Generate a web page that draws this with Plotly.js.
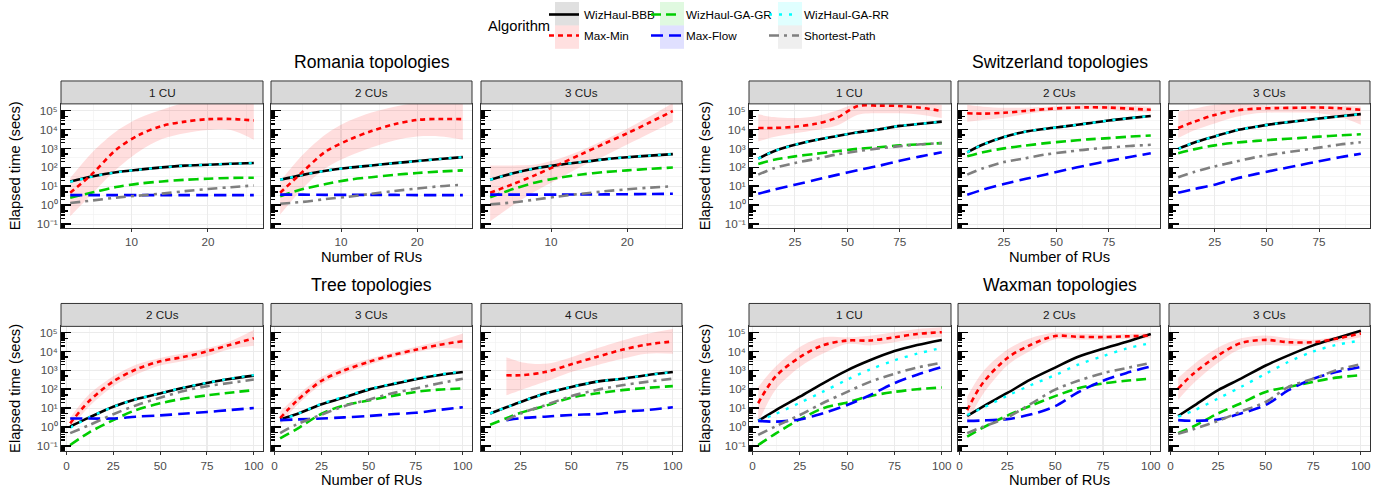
<!DOCTYPE html>
<html><head><meta charset="utf-8">
<script src="https://cdn.plot.ly/plotly-3.0.1.min.js"></script>
<style>html,body{margin:0;padding:0;background:#fff}#chart{width:1382px;height:491px}</style>
</head><body><div id="chart"></div>
<script>
// ---------------- DATA (elapsed time in seconds) ----------------
const algorithms = ['WizHaul-BBB', 'WizHaul-GA-GR', 'WizHaul-GA-RR', 'Max-Min', 'Max-Flow', 'Shortest-Path'];
const groupTitles = ['Romania topologies', 'Switzerland topologies', 'Tree topologies', 'Waxman topologies'];

const romaniaPanels = ['1 CU', '2 CUs', '3 CUs'];
const romaniaRUs = [[2,5,8,11,14,17,20,23,26],[2,5,8,11,14,17,20,23,26],[2,5,8,11,14,17,20,23,26]];
const romaniaBBB = [[18,34,55,76,100,123,138,155,170],[22,40,66,95,126,166,214,275,347],[22,48,89,135,190,263,339,417,501]];
const romaniaGAGR = [[2.5,4.8,9.1,13.8,18,22,25,27.5,28],[3.0,7.1,13,22,30,40,50,60,69],[2.6,7.1,16,28,42,56,69,83,98]];
const romaniaGARR = [[17,33,54,75,99,122,137,154,168],[22,40,66,95,126,166,214,275,347],[22,48,89,135,190,263,339,417,501]];
const romaniaMaxMin = [[4.5,50,850,5200,15500,26000,35000,36000,30000],[4.5,60,690,2800,8300,19000,32000,36000,35000],[4.5,13,40,140,500,1800,6300,24000,95000]];
const romaniaMaxMinLow = [[0.26,4.5,76,690,3100,6300,9500,9500,2900],[0.32,7.9,91,380,1100,2600,4200,4300,2900],[0.14,1.0,5.6,25,112,400,1600,6300,25000]];
const romaniaMaxMinHigh = [[27,690,7800,40000,110000,250000,250000,250000,250000],[18,470,5600,28000,79000,160000,250000,250000,250000],[126,126,141,282,794,2800,11000,50000,250000]];
const romaniaMaxFlow = [[3.4,3.4,3.4,3.4,3.4,3.4,3.4,3.4,3.4],[3.6,3.6,3.5,3.5,3.5,3.5,3.4,3.4,3.4],[3.6,3.6,3.6,3.6,3.7,3.7,3.8,3.9,4.0]];
const romaniaShortest = [[1.3,1.8,2.5,3.2,4.1,5.5,7.2,8.9,11],[1.2,1.5,2.1,2.8,4.0,5.6,7.6,10,12],[1.1,1.4,2.0,2.9,4.0,5.4,6.9,8.5,10]];

const switzerlandPanels = ['1 CU', '2 CUs', '3 CUs'];
const switzerlandRUs = [[7.5,15,25,35,45,55,65,75,85,95],[7.5,15,25,35,45,55,65,75,85,95],[7.5,15,25,35,45,55,65,75,85,95]];
const switzerlandBBB = [[290,710,1550,2800,4500,7100,10000,15500,20000,26000],[620,1600,4000,7600,11000,15000,21000,30000,40000,52000],[950,2000,4300,8900,14000,21000,28000,38000,50000,65000]];
const switzerlandGAGR = [[150,250,380,520,710,950,1150,1450,1650,1900],[380,630,1000,1400,1900,2400,3000,3500,4200,4800],[560,890,1450,2000,2500,3000,3500,4200,4900,5600]];
const switzerlandGARR = [[290,710,1550,2800,4500,7100,10000,15500,20000,26000],[620,1600,4000,7600,11000,15000,21000,30000,40000,52000],[950,2000,4300,8900,14000,21000,28000,38000,50000,65000]];
const switzerlandMaxMin = [[12000,12000,14000,20000,42000,174000,182000,174000,141000,95000],[72000,69000,76000,95000,120000,138000,148000,145000,126000,110000],[12000,25000,59000,100000,126000,135000,141000,145000,132000,110000]];
const switzerlandMaxMinLow = [[2300,4000,6300,9500,16000,60000,72000,71000,60000,40000],[26000,32000,42000,63000,89000,107000,115000,110000,91000,76000],[3500,8900,21000,45000,71000,79000,79000,72000,45000,18000]];
const switzerlandMaxMinHigh = [[63000,45000,40000,50000,100000,250000,250000,250000,250000,200000],[200000,160000,141000,141000,160000,178000,190000,190000,178000,160000],[89000,126000,200000,250000,200000,178000,178000,178000,178000,166000]];
const switzerlandMaxFlow = [[4.0,6.6,12,22,40,71,120,220,380,620],[3.6,6.6,13,24,42,76,130,220,350,560],[4.5,7.1,12,25,45,76,126,210,340,520]];
const switzerlandShortest = [[41,89,170,280,480,720,1000,1300,1650,1900],[41,89,190,300,480,660,890,1100,1350,1550],[30,56,112,200,350,520,760,1100,1600,2100]];

const treePanels = ['2 CUs', '3 CUs', '4 CUs'];
const treeRUs = [[2,12,25,37,50,62,75,87,100],[3,12,25,37,50,62,75,87,100],[10,18,25,37,50,62,75,87,100]];
const treeBBB = [[1.05,3.1,11.7,29,59,117,214,347,525],[2.5,4.8,16,36,95,178,340,550,810],[5.2,11,21,59,132,245,360,550,810]];
const treeGAGR = [[0.11,0.5,2.3,7.8,17.8,31,47,65,89],[0.25,0.79,5.0,14,25,43,72,95,110],[1.3,2.9,5.6,13,36,59,89,117,145]];
const treeGARR = [[0.92,3.1,11.7,29,60,120,220,360,560],[2.2,4.8,17,40,100,190,360,590,890],[5.2,11,21,59,132,245,360,550,810]];
const treeMaxMin = [[1.55,23,260,1100,3000,5000,10000,22000,50000],[2.9,25,280,1000,2800,6200,12300,22000,35000],[null,550,550,810,2100,5000,12300,23000,34000]];
const treeMaxMinLow = [[0.76,11.7,145,590,1800,3000,5500,13000,20000],[1.26,14,178,630,1900,4500,8900,15000,14000],[null,48,89,245,810,1800,4100,7600,7600]];
const treeMaxMinHigh = [[3.1,52,480,2000,4500,8100,15000,34000,138000],[6.3,45,450,1600,4000,8500,18000,35000,89000],[null,5000,2800,2200,5000,13800,38000,85000,155000]];
const treeMaxFlow = [[2.8,2.8,2.8,3.5,4.1,5.0,6.2,7.8,10],[2.3,2.5,2.8,3.2,3.8,4.7,5.6,7.9,11],[null,2.3,2.9,3.5,4.3,4.8,6.5,7.9,11]];
const treeShortest = [[0.47,1.23,4.7,13.8,35,78,145,214,324],[0.47,1.4,4.5,12.6,28,59,110,200,360],[null,2.3,5.2,14,43,89,162,245,360]];

const waxmanPanels = ['1 CU', '2 CUs', '3 CUs'];
const waxmanRUs = [[3,12,25,37,50,62,75,87,100],[4,12,25,37,50,62,75,87,100],[4,12,25,37,50,62,75,87,100]];
const waxmanBBB = [[2.1,7.4,40,200,1000,3400,10500,22000,41000],[3.8,11.7,63,320,1400,5200,14000,32000,85000],[3.8,12.6,89,360,1800,6200,21000,50000,126000]];
const waxmanGAGR = [[0.11,0.43,2.5,9.5,20,43,72,100,123],[0.31,0.89,4.0,13,43,112,200,280,360],[0.47,1.05,5.2,18,72,132,245,410,550]];
const waxmanGARR = [[2.1,4.8,19,72,320,1100,3400,7600,15500],[4.3,10,45,160,560,2000,5600,14000,28000],[3.5,7.2,32,132,660,2800,10000,22000,38000]];
const waxmanMaxMin = [[18,450,5000,21000,38000,38000,56000,85000,105000],[7.8,200,4500,22000,66000,60000,58000,63000,69000],[110,660,6200,28000,41000,31000,31000,47000,91000]];
const waxmanMaxMinLow = [[1.55,89,1500,7600,25000,21000,31000,47000,56000],[1.6,50,1800,11000,45000,42000,42000,47000,50000],[28,200,2500,14000,22000,20000,22000,32000,56000]];
const waxmanMaxMinHigh = [[132,1500,17000,56000,56000,69000,105000,155000,190000],[40,800,12600,50000,100000,89000,79000,83000,95000],[400,2000,16000,50000,71000,50000,42000,63000,141000]];
const waxmanMaxFlow = [[2.1,1.9,2.5,5.2,14.5,48,210,590,1500],[2.1,2.2,2.6,4.5,12.6,69,280,710,1600],[2.3,2.1,2.5,5.2,14.5,89,360,810,1500]];
const waxmanShortest = [[0.38,1.05,4.3,18,72,245,660,1400,2500],[0.47,1.0,3.2,16,95,280,710,1300,2500],[0.43,0.76,2.1,6.5,21,132,360,1000,2100]];

const yTickLabels = ['10\u207B\u00B9', '10\u2070', '10\u00B9', '10\u00B2', '10\u00B3', '10\u2074', '10\u2075'];

// ---------------- STYLE ----------------
const FONT = 'Liberation Sans, Arial, Helvetica, sans-serif';
const W = 1382, H = 491;
const px = X => X / W, py = Y => 1 - Y / H;
const styles = {
  'WizHaul-BBB':   {color:'#000000', dash:'solid', legend:'legend', bg:'rgba(0,0,0,0.12)'},
  'WizHaul-GA-GR': {color:'#00CD00', dash:'10px,5px', legend:'legend2', bg:'rgba(0,205,0,0.12)'},
  'WizHaul-GA-RR': {color:'#00FFFF', dash:'3px,7px', legend:'legend3', bg:'rgba(0,255,255,0.12)'},
  'Max-Min':       {color:'#FF0000', dash:'5px,4px', legend:'legend', bg:'rgba(255,0,0,0.12)'},
  'Max-Flow':      {color:'#0000FF', dash:'12px,6px', legend:'legend2', bg:'rgba(0,0,255,0.12)'},
  'Shortest-Path': {color:'#7F7F7F', dash:'10px,5px,3px,5px', legend:'legend3', bg:'rgba(127,127,127,0.12)'}
};

const groups = [
  {panels: romaniaPanels, x: romaniaRUs, s: [romaniaBBB, romaniaGAGR, romaniaGARR, romaniaMaxMin, romaniaMaxFlow, romaniaShortest], lo: romaniaMaxMinLow, hi: romaniaMaxMinHigh,
   xr: [[0.8,27.2],[0.8,27.2],[0.8,27.2]], dtick: 10, minor: 5},
  {panels: switzerlandPanels, x: switzerlandRUs, s: [switzerlandBBB, switzerlandGAGR, switzerlandGARR, switzerlandMaxMin, switzerlandMaxFlow, switzerlandShortest], lo: switzerlandMaxMinLow, hi: switzerlandMaxMinHigh,
   xr: [[3.1,99.4],[3.1,99.4],[3.1,99.4]], dtick: 25, minor: 12.5},
  {panels: treePanels, x: treeRUs, s: [treeBBB, treeGAGR, treeGARR, treeMaxMin, treeMaxFlow, treeShortest], lo: treeMaxMinLow, hi: treeMaxMinHigh,
   xr: [[-2.9,104.9],[-1.85,104.85],[5.5,104.5]], dtick: 25, minor: 12.5},
  {panels: waxmanPanels, x: waxmanRUs, s: [waxmanBBB, waxmanGAGR, waxmanGARR, waxmanMaxMin, waxmanMaxFlow, waxmanShortest], lo: waxmanMaxMinLow, hi: waxmanMaxMinHigh,
   xr: [[-1.85,104.85],[-0.8,104.8],[-0.8,104.8]], dtick: 25, minor: 12.5}
];

const colPx = [[61,263],[271,472],[481,682],[749,951],[958,1160],[1169,1370]];
const rows = [
  {strip:[79.3,102.3], plot:[102.3,227.3], yr:[-1.226,5.353]},
  {strip:[302.7,325.7], plot:[325.7,451.3], yr:[-1.30,5.33]}
];

// log-axis decoration values
const decades = [], halfDecades = [], fives = [], smallTicks = [];
for (let k = -2; k <= 5; k++) {
  decades.push(Math.pow(10, k));
  halfDecades.push(Math.pow(10, k + 0.5));
  fives.push(5 * Math.pow(10, k));
  [2,3,4,6,7,8,9].forEach(m => smallTicks.push(m * Math.pow(10, k)));
}

const traces = [];
const layout = {
  width: W, height: H, margin: {l:0, r:0, t:0, b:0},
  paper_bgcolor: '#ffffff', plot_bgcolor: '#ffffff',
  font: {family: FONT, color: '#000000', size: 11.7},
  showlegend: true, annotations: [], shapes: []
};

function clean(xs, ys) {
  const X = [], Y = [];
  xs.forEach((v, i) => { if (ys[i] !== null && ys[i] !== undefined) { X.push(v); Y.push(ys[i]); } });
  return {x: X, y: Y};
}

for (let p = 0; p < 12; p++) {
  const g = Math.floor(p / 3), c = p % 3, grp = groups[g];
  const row = rows[g < 2 ? 0 : 1];
  const side = g % 2;
  const cp = colPx[side * 3 + c];
  const n = p + 1;
  const xid = p === 0 ? 'x' : 'x' + n, yid = p === 0 ? 'y' : 'y' + n;
  const xkey = p === 0 ? 'xaxis' : 'xaxis' + n, ykey = p === 0 ? 'yaxis' : 'yaxis' + n;
  const oid = 'y' + (n + 12), okey = 'yaxis' + (n + 12);
  const leftmost = c === 0;

  layout[xkey] = {
    domain: [px(cp[0]), px(cp[1])], anchor: yid, range: grp.xr[c], autorange: false,
    tick0: 0, dtick: grp.dtick, ticks: 'outside', ticklen: 3, tickcolor: '#333333', tickwidth: 1,
    showline: true, mirror: true, linecolor: '#333333', linewidth: 1,
    showgrid: true, gridcolor: '#EBEBEB', gridwidth: 1.1, zeroline: false,
    minor: {dtick: grp.minor, tick0: 0, showgrid: true, gridcolor: '#F2F2F2', gridwidth: 0.7, ticks: ''},
    tickfont: {size: 11.7, color: '#4D4D4D', family: FONT}, fixedrange: true
  };
  const yax = {
    domain: [py(row.plot[1]), py(row.plot[0])], anchor: xid, type: 'log', range: row.yr, autorange: false,
    tickmode: 'array', tickvals: decades.slice(1, 8), showticklabels: leftmost,
    ticks: 'inside', ticklen: 10, tickwidth: 1.6, tickcolor: '#000000',
    showline: true, mirror: true, linecolor: '#333333', linewidth: 1,
    showgrid: true, gridcolor: '#EBEBEB', gridwidth: 1.1, zeroline: false,
    minor: {tickmode: 'array', tickvals: halfDecades, showgrid: true, gridcolor: '#F2F2F2', gridwidth: 0.7, ticks: ''},
    tickfont: {size: 11.7, color: '#4D4D4D', family: FONT}, fixedrange: true
  };
  if (leftmost) yax.ticktext = yTickLabels;
  layout[ykey] = yax;
  // overlay axis carrying the log tick marks (5s and 2..9s)
  layout[okey] = {
    overlaying: yid, anchor: xid, side: 'left', type: 'log', range: row.yr, autorange: false,
    tickmode: 'array', tickvals: fives, showticklabels: false,
    ticks: 'inside', ticklen: 6.5, tickwidth: 1.5, tickcolor: '#000000',
    showline: false, showgrid: false, zeroline: false,
    minor: {tickmode: 'array', tickvals: smallTicks, ticks: 'inside', ticklen: 4, tickwidth: 1.5, tickcolor: '#000000', showgrid: false},
    fixedrange: true
  };
  traces.push({type:'scatter', mode:'lines', x: [], y: [], xaxis: xid, yaxis: oid, showlegend: false, hoverinfo: 'skip'});

  // strip
  layout.shapes.push({type:'rect', xref: xid + ' domain', yref:'paper', x0:0, x1:1, y0: py(row.strip[1]), y1: py(row.strip[0]),
    fillcolor:'#D9D9D9', line:{color:'#333333', width:1}, layer:'above'});
  layout.annotations.push({xref: xid + ' domain', yref:'paper', x:0.5, y: py((row.strip[0] + row.strip[1]) / 2),
    text: grp.panels[c], showarrow:false, font:{size:11.7, color:'#1A1A1A', family: FONT}, xanchor:'center', yanchor:'middle'});

  // Max-Min confidence ribbon
  const lo = clean(grp.x[c], grp.lo[c]), hi = clean(grp.x[c], grp.hi[c]);
  traces.push({type:'scatter', mode:'lines', x: lo.x, y: lo.y, xaxis: xid, yaxis: yid, line:{width:0, shape:'spline', smoothing:0.9},
    showlegend:false, hoverinfo:'skip'});
  traces.push({type:'scatter', mode:'lines', x: hi.x, y: hi.y, xaxis: xid, yaxis: yid, line:{width:0, shape:'spline', smoothing:0.9},
    fill:'tonexty', fillcolor:'rgba(255,0,0,0.13)', showlegend:false, hoverinfo:'skip'});

  algorithms.forEach((name, i) => {
    const st = styles[name];
    const d = clean(grp.x[c], grp.s[i][c]);
    traces.push({type:'scatter', mode:'lines', name: name, x: d.x, y: d.y, xaxis: xid, yaxis: yid,
      line:{color: st.color, dash: st.dash, width: name === 'WizHaul-GA-RR' ? 2.4 : 2.6, shape:'spline', smoothing:0.9},
      legend: st.legend, legendgroup: name, showlegend: p === 0});
  });
}

// group titles and axis titles
const groupCenters = [[371.5, 60], [1059.5, 60], [371.5, 284], [1059.5, 284]];
groupTitles.forEach((t, g) => {
  const [cx, cy] = groupCenters[g];
  layout.annotations.push({xref:'paper', yref:'paper', x: px(cx), y: py(cy), text: t, showarrow:false,
    font:{size:17.6, color:'#000000', family: FONT}, xanchor:'center', yanchor:'middle'});
  const xtY = g < 2 ? 256 : 479.5;
  layout.annotations.push({xref:'paper', yref:'paper', x: px(cx), y: py(xtY), text: 'Number of RUs', showarrow:false,
    font:{size:14.7, color:'#000000', family: FONT}, xanchor:'center', yanchor:'middle'});
  const ytX = g % 2 === 0 ? 15 : 705, ytY = g < 2 ? 165 : 388.5;
  layout.annotations.push({xref:'paper', yref:'paper', x: px(ytX), y: py(ytY), text: 'Elapsed time (secs)', showarrow:false,
    textangle: -90, font:{size:14.7, color:'#000000', family: FONT}, xanchor:'center', yanchor:'middle'});
});

// legends (three columns, two rows)
const legendBase = {orientation:'v', yanchor:'top', xanchor:'left', y: py(-2.5), bgcolor:'rgba(0,0,0,0)', borderwidth:0,
  font:{size:11.7, color:'#000000', family: FONT}, tracegroupgap: 2, itemclick:false, itemdoubleclick:false};
layout.legend = Object.assign({}, legendBase, {x: px(544)});
layout.legend2 = Object.assign({}, legendBase, {x: px(646)});
layout.legend3 = Object.assign({}, legendBase, {x: px(764)});
layout.annotations.push({xref:'paper', yref:'paper', x: px(518.5), y: py(24.5), text:'Algorithm', showarrow:false,
  font:{size:14.7, color:'#000000', family: FONT}, xanchor:'center', yanchor:'middle'});
// legend key backgrounds
const keyCols = {legend: 555, legend2: 660, legend3: 778};
const keyRowIdx = {'WizHaul-BBB':0, 'Max-Min':1, 'WizHaul-GA-GR':0, 'Max-Flow':1, 'WizHaul-GA-RR':0, 'Shortest-Path':1};
algorithms.forEach(name => {
  const st = styles[name];
  const x0 = keyCols[st.legend], y0 = keyRowIdx[name] * 23.5;
  layout.shapes.push({type:'rect', xref:'paper', yref:'paper', x0: px(x0), x1: px(x0 + 24), y0: py(y0 + 23.5), y1: py(y0),
    fillcolor: st.bg, line:{width:0}, layer:'below'});
});

Plotly.newPlot('chart', traces, layout, {staticPlot: true, displayModeBar: false});
</script></body></html>
